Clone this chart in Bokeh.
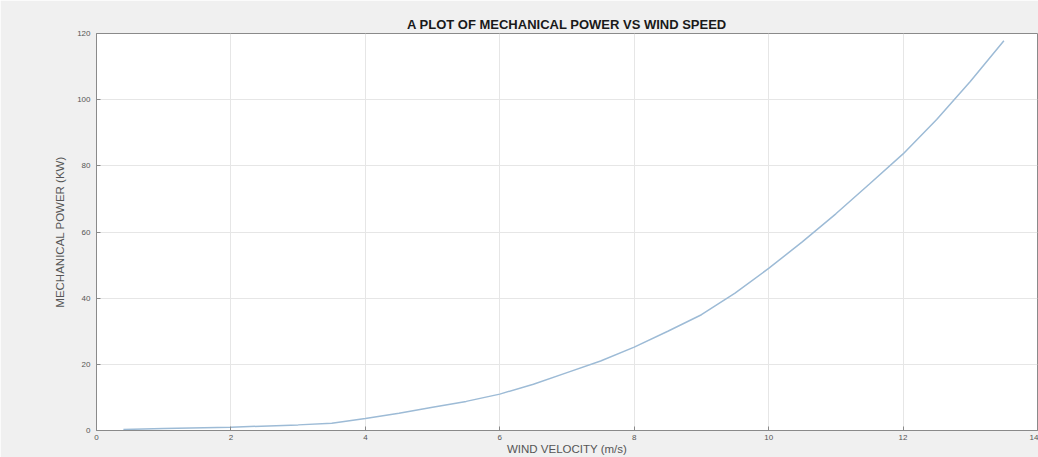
from bokeh.plotting import figure
from bokeh.models import Range1d, FixedTicker
from bokeh.embed import file_html
from bokeh.resources import INLINE

# Data
wind_speed = [0.4, 1.0, 2.0, 3.0, 3.5, 4.0, 4.5, 5.0, 5.5, 6.0, 6.5, 7.0, 7.5, 8.0,
              8.5, 9.0, 9.5, 10.0, 10.5, 11.0, 11.5, 12.0, 12.5, 13.0, 13.5]
mech_power = [0.3, 0.6, 1.0, 1.7, 2.2, 3.6, 5.2, 7.0, 8.8, 11.0, 14.0, 17.5, 21.0, 25.2,
              30.0, 35.0, 41.5, 49.0, 57.0, 65.5, 74.5, 83.6, 94.0, 105.5, 117.8]
x_ticks = [0, 2, 4, 6, 8, 10, 12, 14]
y_ticks = [0, 20, 40, 60, 80, 100, 120]

FONT = "Liberation Sans"

p = figure(width=1038, height=457, output_backend="svg", toolbar_location=None,
           x_range=Range1d(0, 14), y_range=Range1d(0, 120),
           min_border_left=96, min_border_right=1, min_border_top=33, min_border_bottom=27)

p.border_fill_color = "#f0f0f0"
p.background_fill_color = "white"
p.outline_line_color = "#8a8a8a"
p.outline_line_width = 1

p.title.text = "A PLOT OF MECHANICAL POWER VS WIND SPEED"
p.title.align = "center"
p.title.text_font = FONT
p.title.text_font_size = "13px"
p.title.text_font_style = "bold"
p.title.text_color = "#1a1a1a"
p.title.standoff = 3

p.line(wind_speed, mech_power, line_color="#9dbbd6", line_width=1.5)

for ax in (p.xaxis[0], p.yaxis[0]):
    ax.major_label_text_font = FONT
    ax.major_label_text_font_size = "8px"
    ax.major_label_text_color = "#555555"
    ax.axis_line_color = "#8a8a8a"
    ax.major_tick_line_color = "#8a8a8a"
    ax.major_tick_in = 4
    ax.major_tick_out = 0
    ax.minor_tick_line_color = None

p.xaxis.ticker = FixedTicker(ticks=x_ticks)
p.yaxis.ticker = FixedTicker(ticks=y_ticks)
p.xaxis.major_label_standoff = 4
p.yaxis.major_label_standoff = 6

p.yaxis.axis_label = "MECHANICAL POWER (KW)"
p.yaxis.axis_label_text_font = FONT
p.yaxis.axis_label_text_font_size = "11.5px"
p.yaxis.axis_label_text_font_style = "normal"
p.yaxis.axis_label_text_color = "#555555"
p.yaxis.axis_label_standoff = 8

p.xaxis.axis_label = "WIND VELOCITY (m/s)"
p.xaxis.axis_label_text_font = FONT
p.xaxis.axis_label_text_font_size = "11.5px"
p.xaxis.axis_label_text_font_style = "normal"
p.xaxis.axis_label_text_color = "#555555"
p.xaxis.axis_label_standoff = 0

p.xgrid.grid_line_color = "#e6e6e6"
p.ygrid.grid_line_color = "#e6e6e6"

open("out.html", "w").write(file_html(p, INLINE))
